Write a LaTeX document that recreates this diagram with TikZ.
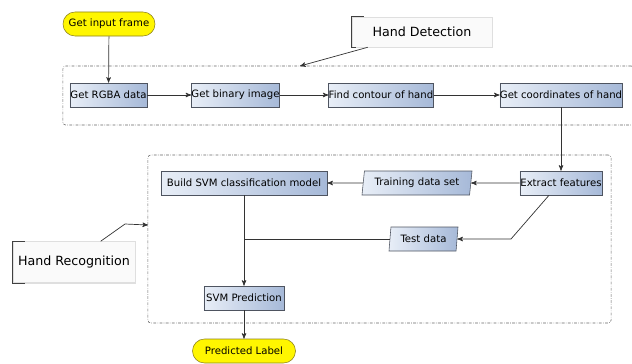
\documentclass[tikz,border=0pt]{standalone}
\usepackage{fontspec}
\setmainfont{DejaVu Sans}
\usetikzlibrary{arrows,positioning,shapes.geometric,shadows}

\definecolor{boxlight}{RGB}{232,238,247}
\definecolor{boxdark}{RGB}{166,185,216}
\definecolor{boxline}{RGB}{78,84,96}
\definecolor{pillfill}{RGB}{255,246,0}
\definecolor{pillline}{RGB}{140,128,30}

\begin{document}
\begin{tikzpicture}[x=0.025cm,y=-0.025cm,>=stealth',
  proc/.style={draw=boxline,left color=boxlight,right color=boxdark,
    minimum height=0.6cm,inner sep=0pt,font=\fontsize{7.2}{8.5}\selectfont},
  datain/.style={proc,trapezium,trapezium left angle=76,trapezium right angle=104,
    trapezium stretches body},
  pill/.style={draw=pillline,fill=pillfill,rounded corners=0.3cm,
    minimum height=0.6cm,inner sep=0pt,font=\fontsize{7.2}{8.5}\selectfont},
  group/.style={draw=gray!80!black,dash pattern=on 2pt off 1pt on 0.4pt off 1pt,
    rounded corners=2pt,inner sep=0pt},
  note/.style={fill=gray!4,draw=gray!25,drop shadow={opacity=0.25,shadow xshift=1pt,shadow yshift=-1pt},
    inner sep=0pt,font=\fontsize{9}{11}\selectfont}]
\useasboundingbox (0,0) rectangle (632,363);
  % groups
  \node[group,minimum width=14.275cm,minimum height=1.475cm] (detbox) at (348.5,95.5) {};
  \node[group,minimum width=11.575cm,minimum height=4.2cm]   (recbox) at (379.5,239) {};
  % hand detection row
  \node[pill,minimum width=2.3cm]  (frame)    at (109,24)    {Get input frame};
  \node[proc,minimum width=1.925cm] (rgba)    at (108.5,95)  {Get RGBA data};
  \node[proc,minimum width=2.175cm] (binary)  at (235.5,95)  {Get binary image};
  \node[proc,minimum width=2.6cm]   (contour) at (381,95)    {Find contour of hand};
  \node[proc,minimum width=3.05cm]  (coords)  at (561,95)    {Get coordinates of hand};
  % hand recognition
  \node[proc,minimum width=2.05cm]  (extract) at (561,183)   {Extract features};
  \node[datain,minimum width=2.75cm] (train)  at (417,183)   {Training data set};
  \node[proc,minimum width=4.15cm]  (build)   at (244,183)   {Build SVM classification model};
  \node[datain,minimum width=1.725cm] (test)  at (423.5,239) {Test data};
  \node[proc,minimum width=2cm]     (predict) at (244,298)   {SVM Prediction};
  \node[pill,minimum width=2.575cm] (label)   at (244,351)   {Predicted Label};
  % notes
  \node[note,minimum width=3.5cm,minimum height=0.75cm]    (detnote) at (422,32)  {Hand Detection};
  \node[note,minimum width=3.05cm,minimum height=1.025cm]  (recnote) at (74,262)  {Hand Recognition};
  \draw[black!75] ([xshift=0.3cm]detnote.north west) -| (detnote.south west) -- ++(4,0);
  \draw[black!75] ([xshift=0.3cm]recnote.north west) -| (recnote.south west) -- ++(12,0);
  \coordinate (dettip)  at (300,66);
  \coordinate (recbend) at (125,224);
  \coordinate (rectip)  at (148,225);
  \coordinate (split)   at (511,239);
\tikzset{link/.style={->,draw=black!80,line width=0.5pt}}
\path (frame)   edge [link] (rgba)
      (rgba)    edge [link] (binary)
      (binary)  edge [link] (contour)
      (contour) edge [link] (coords)
      (coords)  edge [link] (extract)
      (extract) edge [link] (train)
      (train)   edge [link] (build)
      (build)   edge [link] (predict)
      (predict) edge [link] (label);
\draw[link] ([xshift=-0.3cm]extract.south) -- (split) -- (test.east);
\draw[black!80,line width=0.5pt] (test.west) -- (test.west -| build.south);
\draw[link] ([xshift=0.4cm]detnote.south west) -- (dettip);
\draw[link] ([xshift=2.2cm]recnote.north west) -- (recbend) -- (rectip);
\end{tikzpicture}
\end{document}
